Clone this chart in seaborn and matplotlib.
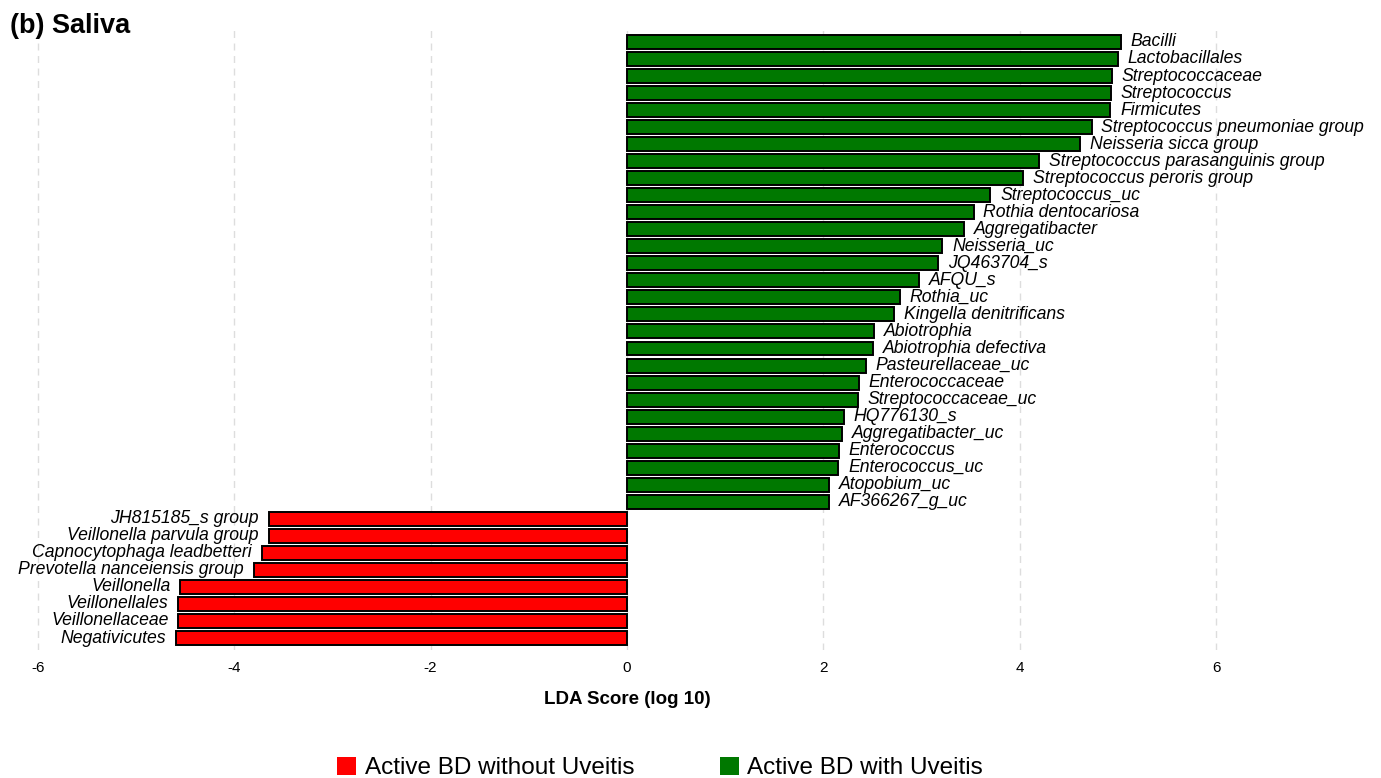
import pandas as pd
import seaborn as sns
import matplotlib.pyplot as plt
from matplotlib.patches import Patch

# taxa listed top to bottom, as in the figure
taxa = [
    "Bacilli", "Lactobacillales", "Streptococcaceae", "Streptococcus", "Firmicutes",
    "Streptococcus pneumoniae group", "Neisseria sicca group",
    "Streptococcus parasanguinis group", "Streptococcus peroris group",
    "Streptococcus_uc", "Rothia dentocariosa", "Aggregatibacter", "Neisseria_uc",
    "JQ463704_s", "AFQU_s", "Rothia_uc", "Kingella denitrificans", "Abiotrophia",
    "Abiotrophia defectiva", "Pasteurellaceae_uc", "Enterococcaceae",
    "Streptococcaceae_uc", "HQ776130_s", "Aggregatibacter_uc", "Enterococcus",
    "Enterococcus_uc", "Atopobium_uc", "AF366267_g_uc",
    "JH815185_s group", "Veillonella parvula group", "Capnocytophaga leadbetteri",
    "Prevotella nanceiensis group", "Veillonella", "Veillonellales",
    "Veillonellaceae", "Negativicutes",
]
lda_scores = [
    5.03, 5.00, 4.94, 4.93, 4.92,
    4.73, 4.61,
    4.20, 4.03,
    3.70, 3.53, 3.43, 3.21,
    3.17, 2.97, 2.78, 2.72, 2.52,
    2.51, 2.43, 2.36,
    2.35, 2.21, 2.19, 2.16,
    2.15, 2.06, 2.06,
    -3.65, -3.65, -3.72,
    -3.80, -4.55, -4.57,
    -4.57, -4.59,
]
group_without = "Active BD without Uveitis"
group_with = "Active BD with Uveitis"
groups = [group_with] * 28 + [group_without] * 8

colors = {group_without: "#ff0000", group_with: "#007800"}

df = pd.DataFrame({"taxon": taxa, "lda": lda_scores, "group": groups})

sns.set_style("white")
plt.rcParams["font.family"] = ["Liberation Sans", "DejaVu Sans"]
plt.rcParams["axes.unicode_minus"] = False
plt.rcParams["text.color"] = "black"
plt.rcParams["axes.labelcolor"] = "black"

fig = plt.figure(figsize=(13.81, 7.78), dpi=100)
ax = fig.add_axes([0.0, 0.1645, 1.0, 0.797])

sns.barplot(
    data=df, x="lda", y="taxon", hue="group", order=taxa,
    hue_order=[group_without, group_with], palette=colors, dodge=False,
    saturation=1, width=0.82, edgecolor="black", linewidth=1.4,
    orient="h", ax=ax,
)
if ax.get_legend() is not None:
    ax.get_legend().remove()

# labels next to the bars
for i, (name, val) in enumerate(zip(taxa, lda_scores)):
    if val >= 0:
        ax.text(val + 0.1, i, name, ha="left", va="center",
                fontsize=12.7, style="italic", color="black")
    else:
        ax.text(val - 0.1, i, name, ha="right", va="center",
                fontsize=12.7, style="italic", color="black")

ax.set_xlim(-6.385, 7.678)
ax.set_ylim(35.705, -0.705)
ax.set_xticks([-6, -4, -2, 0, 2, 4, 6])
ax.set_yticks([])
ax.set_ylabel("")
ax.tick_params(axis="x", length=0, pad=8, labelsize=11, colors="black")
ax.set_xlabel("LDA Score (log 10)", fontsize=13.5, fontweight="bold")
ax.xaxis.set_label_coords(0.454, -0.079)
ax.xaxis.label.set_verticalalignment("center")
ax.grid(axis="x", linestyle=(0, (5, 4)), color="#dddddd", linewidth=1)
ax.set_axisbelow(True)
sns.despine(ax=ax, left=True, bottom=True)

fig.text(0.007, 0.967, "(b) Saliva", fontsize=19.5, fontweight="bold",
         ha="left", va="center")

handles = [Patch(facecolor=colors[g], edgecolor="none") for g in [group_without, group_with]]
fig.legend(handles, [group_without, group_with], loc="center",
           bbox_to_anchor=(0.478, 0.013), ncol=2, frameon=False, fontsize=17.5,
           handlelength=0.8, handleheight=0.8, handletextpad=0.35,
           columnspacing=3.5)

fig.savefig("out.png", dpi=100)
